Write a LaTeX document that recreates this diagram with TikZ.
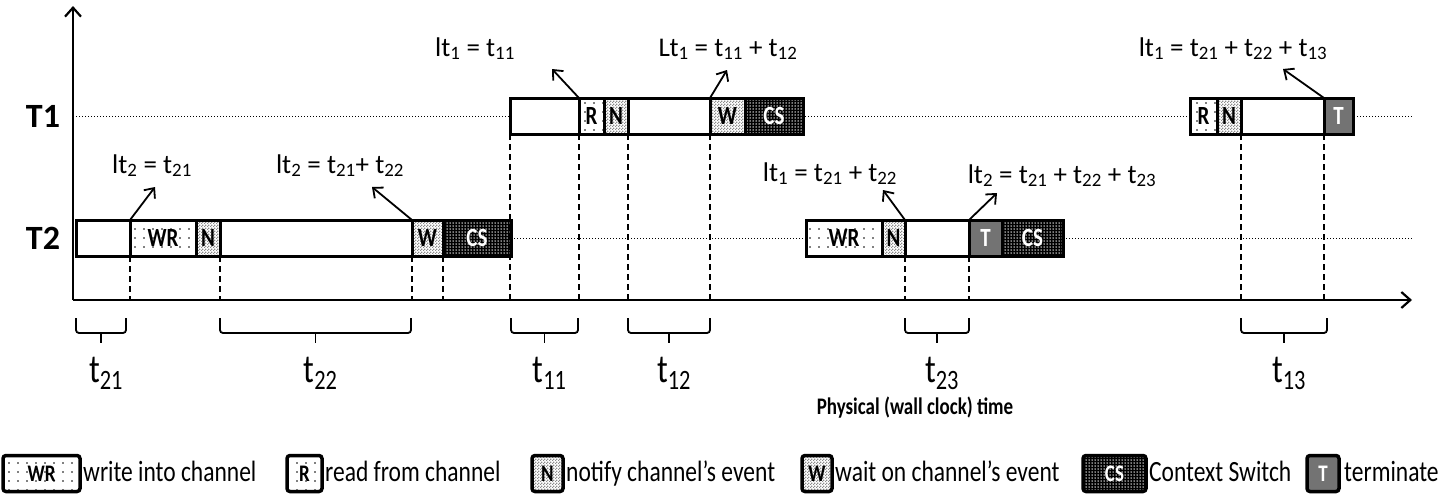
\documentclass[tikz,border=0pt]{standalone}
\usepackage{graphicx}
\usepackage{fontspec}
\setmainfont{Carlito}
\usetikzlibrary{arrows.meta,positioning,patterns}
\pgfdeclarepatternformonly{sparse dots}{\pgfqpoint{-1pt}{-1pt}}{\pgfqpoint{1pt}{1pt}}{\pgfqpoint{9pt}{9pt}}{\pgfpathcircle{\pgfpointorigin}{0.8pt}\pgfusepath{fill}}
\pgfdeclarepatternformonly{checker}{\pgfpointorigin}{\pgfqpoint{3pt}{3pt}}{\pgfqpoint{3pt}{3pt}}{\pgfpathrectangle{\pgfpointorigin}{\pgfqpoint{1.5pt}{1.5pt}}\pgfpathrectangle{\pgfqpoint{1.5pt}{1.5pt}}{\pgfqpoint{1.5pt}{1.5pt}}\pgfusepath{fill}}
\pgfdeclarepatternformonly{fine dots}{\pgfqpoint{-1pt}{-1pt}}{\pgfqpoint{1pt}{1pt}}{\pgfqpoint{3pt}{3pt}}{\pgfpathcircle{\pgfpointorigin}{0.75pt}\pgfusepath{fill}}
\newcommand{\fs}[1]{\fontsize{#1}{#1}\selectfont}
\newcommand{\lo}[1]{\textsubscript{#1}}
\newcommand{\tall}[1]{\scalebox{1}[1.25]{#1}}
\tikzset{
  cell/.style={draw,line width=3pt,minimum height=36pt,inner sep=1pt,outer sep=0pt,anchor=west,font=\fs{21}\bfseries},
  blank/.style={cell,fill=white},
  wr/.style={cell,preaction={fill=white},pattern=sparse dots},
  ntf/.style={cell,preaction={fill=white},pattern=checker,pattern color=black!45},
  cs/.style={cell,preaction={fill=black},pattern=fine dots,pattern color=white,text=white},
  term/.style={cell,fill=black!55,text=white},
  leg/.style={rounded corners=3pt,line width=3.5pt,font=\fs{19}\bfseries},
  legtxt/.style={inner sep=0pt,text height=21pt,text depth=6pt,font=\fs{23.5}},
  lbl/.style={inner sep=0pt,anchor=base,font=\fs{27}},
  tlbl/.style={inner sep=0pt,anchor=base,font=\fs{32}},
  rowlbl/.style={font=\fs{34}\bfseries},
  axis/.style={-{Straight Barb[length=9pt,width=16pt]},line width=2.2pt},
  ar/.style={-{Straight Barb[length=8pt,width=14pt]},line width=1.8pt},
  lane/.style={dotted,line width=1pt},
  guide/.style={dash pattern=on 6pt off 4pt,line width=1.2pt},
  brk/.style={line width=1.8pt,rounded corners=3pt},
}
\begin{document}
\begin{tikzpicture}[x=1pt,y=-1pt]
\useasboundingbox (0,0) rectangle (1449,499);
\coordinate (o) at (73,300);
\coordinate (ye) at (73,6);
\coordinate (xe) at (1412,300);
\draw[axis] (o) -- (ye);
\draw[axis] (o) -- (xe);
\node[rowlbl] (r1) at (43,116) {T1};
\node[rowlbl] (r2) at (43,238) {T2};
\draw[lane] (o |- r1) -- (xe |- r1);
\draw[lane] (o |- r2) -- (xe |- r2);

\node[blank,minimum width=69pt] (a1) at (510,116) {};
\node[wr,right=0pt of a1,minimum width=25pt] (a2) {\tall{R}};
\node[ntf,right=0pt of a2,minimum width=24pt] (a3) {\tall{N}};
\node[blank,right=0pt of a3,minimum width=82pt] (a4) {};
\node[ntf,right=0pt of a4,minimum width=35pt] (a5) {\tall{W}};
\node[cs,right=0pt of a5,minimum width=58pt] (a6) {\tall{CS}};
\node[wr,minimum width=27pt] (a7) at (1190,116) {\tall{R}};
\node[ntf,right=0pt of a7,minimum width=24pt] (a8) {\tall{N}};
\node[blank,right=0pt of a8,minimum width=83pt] (a9) {};
\node[term,right=0pt of a9,minimum width=29pt] (a10) {\tall{T}};

\node[blank,minimum width=54pt] (b1) at (76,238) {};
\node[wr,right=0pt of b1,minimum width=66pt] (b2) {\tall{WR}};
\node[ntf,right=0pt of b2,minimum width=24pt] (b3) {\tall{N}};
\node[blank,right=0pt of b3,minimum width=192pt] (b4) {};
\node[ntf,right=0pt of b4,minimum width=31pt] (b5) {\tall{W}};
\node[cs,right=0pt of b5,minimum width=68pt] (b6) {\tall{CS}};
\node[wr,minimum width=76pt] (b7) at (806,238) {\tall{WR}};
\node[ntf,right=0pt of b7,minimum width=23pt] (b8) {\tall{N}};
\node[blank,right=0pt of b8,minimum width=64pt] (b9) {};
\node[term,right=0pt of b9,minimum width=33pt] (b10) {\tall{T}};
\node[cs,right=0pt of b10,minimum width=61pt] (b11) {\tall{CS}};

\foreach \c in {b2,b4,b5,b6,a1,a2,a4,a5,b9,b10,a9,a10}
  \draw[guide] (\c.south west) -- (\c.south west |- o);

\foreach \l/\r/\n in {76/126/21,220/411/22,511/578/11,628/710/12,905/969/23,1241/1327/13}{
  \draw[brk] (\l,318) |- ({(\l+\r)/2},333) -| (\r,318);
  \draw[brk] ({(\l+\r)/2},333) -- ++(0,10);
  \node[tlbl] (d\n) at ({(\l+\r)/2+5},382) {\tall{t\lo{\n}}};
}

\node[lbl] (l1) at (152,173) {lt\lo{2} = t\lo{21}};
\node[lbl] (l2) at (340,173) {lt\lo{2} = t\lo{21}+ t\lo{22}};
\node[lbl] (l3) at (475,56) {lt\lo{1} = t\lo{11}};
\node[lbl] (l4) at (728,56) {Lt\lo{1} = t\lo{11} + t\lo{12}};
\node[lbl] (l5) at (830,181) {lt\lo{1} = t\lo{21} + t\lo{22}};
\node[lbl] (l6) at (1062,183) {lt\lo{2} = t\lo{21} + t\lo{22} + t\lo{23}};
\node[lbl] (l7) at (1233,56) {lt\lo{1} = t\lo{21} + t\lo{22} + t\lo{13}};
\coordinate (k1) at (155,187);
\coordinate (k2) at (372,187);
\coordinate (k3) at (552,69);
\coordinate (k4) at (727,70);
\coordinate (k5) at (883,190);
\coordinate (k6) at (997,193);
\coordinate (k7) at (1283,69);
\draw[ar] (b2.north west) -- (k1);
\draw[ar] (b5.north west) -- (k2);
\draw[ar] (a2.north west) -- (k3);
\draw[ar] (a5.north west) -- (k4);
\draw[ar] (b9.north west) -- (k5);
\draw[ar] (b10.north west) -- (k6);
\draw[ar] (a10.north west) -- (k7);

\node[font=\fs{19}\bfseries] (ttl) at (915,408) {\tall{Physical (wall clock) time}};

\node[wr,leg,minimum width=77pt] (gwr) at (3,473.5) {\tall{WR}};
\node[legtxt,right=3pt of gwr] (twr) {\tall{write into channel}};
\node[wr,leg,minimum width=35pt] (gr) at (287,473.5) {\tall{R}};
\node[legtxt,right=3pt of gr] (tr) {\tall{read from channel}};
\node[ntf,leg,minimum width=31pt] (gn) at (532,473.5) {\tall{N}};
\node[legtxt,right=3pt of gn] (tn) {\tall{notify channel’s event}};
\node[ntf,leg,minimum width=30pt] (gw) at (802,473.5) {\tall{W}};
\node[legtxt,right=3pt of gw] (tw) {\tall{wait on channel’s event}};
\node[cs,leg,minimum width=63pt] (gcs) at (1083,473.5) {\tall{CS}};
\node[legtxt,right=3pt of gcs] (tcs) {\tall{Context Switch}};
\node[term,leg,minimum width=32pt] (gt) at (1307,473.5) {\tall{T}};
\node[legtxt,right=5pt of gt] (tt) {\tall{terminate}};
\end{tikzpicture}
\end{document}
